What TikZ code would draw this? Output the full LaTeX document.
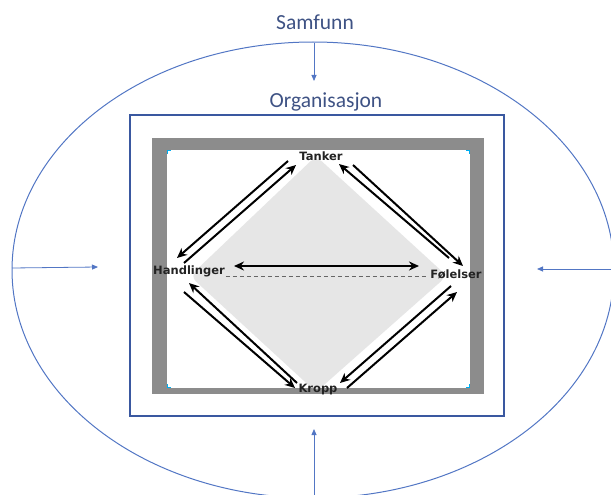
\documentclass[tikz,border=0pt]{standalone}
\usepackage{fontspec}
\setmainfont{Carlito}
\newfontfamily\lblfont{DejaVu Sans}
\usetikzlibrary{arrows.meta}
\definecolor{ttl}{RGB}{62,82,132}
\definecolor{lb}{RGB}{82,118,196}
\definecolor{rb}{RGB}{58,88,160}
\definecolor{frm}{RGB}{140,140,140}
\definecolor{dia}{RGB}{230,230,230}
\definecolor{txt}{RGB}{35,35,35}
\tikzset{
  ttlnode/.style={font=\fontsize{21.5}{24}\selectfont, text=ttl, inner sep=0pt},
  lblnode/.style={font=\lblfont\bfseries\fontsize{11.5}{13}\selectfont, text=txt, inner sep=0pt},
  bluearr/.style={lb, line width=0.8pt, -{Triangle[length=6pt,width=5pt]}},
  blkarr/.style={black, line width=2pt, -{Stealth[length=10pt,width=9pt]}},
  blkdbl/.style={black, line width=2pt, {Stealth[length=10pt,width=9pt]}-{Stealth[length=10pt,width=9pt]}},
  cyanmark/.style={cyan, line width=1pt}
}
\begin{document}
\begin{tikzpicture}[x=1pt,y=-1pt]
\useasboundingbox (0,0) rectangle (611,495);
% outer ellipse
\begin{scope}
\clip (0,0) rectangle (611,495);
\draw[lb, line width=1pt] (313,270) ellipse [x radius=301, y radius=228];
\end{scope}
% titles
\node[ttlnode] (samf) at (315,22) {Samfunn};
\node[ttlnode] (org) at (326,102) {Organisasjon};
% organisation box
\draw[rb, line width=2pt] (130,115) rectangle (504,416);
% blue arrows
\coordinate (ta) at (314,43);
\coordinate (tb) at (314,81);
\coordinate (la) at (12,268);
\coordinate (lbb) at (98,267);
\coordinate (ra) at (611,269);
\coordinate (rbb) at (537,269);
\coordinate (ba) at (314,495);
\coordinate (bb) at (314,429);
\draw[bluearr] (ta) -- (tb);
\draw[bluearr] (la) -- (lbb);
\draw[bluearr] (ra) -- (rbb);
\draw[bluearr] (ba) -- (bb);
% grey frame
\fill[frm] (152,138) rectangle (484,394);
\fill[white] (167,150) rectangle (470,388);
\draw[cyanmark] (167,154) -- (167,150.5) -- (171,150.5);
\draw[cyanmark] (466,150.5) -- (469.5,150.5) -- (469.5,154);
\draw[cyanmark] (167,384) -- (167,387.5) -- (171,387.5);
\draw[cyanmark] (466,387.5) -- (469.5,387.5) -- (469.5,384);
% diamond
\fill[dia, rounded corners=8pt] (316,156) -- (447,276) -- (316,392) -- (190,276) -- cycle;
% labels
\node[lblnode] (T) at (321,156) {Tanker};
\node[lblnode] (H) at (189,271) {Handlinger};
\node[lblnode] (F) at (456,274) {Følelser};
\node[lblnode] (K) at (318,390) {Kropp};
% dashed line
\coordinate (dl) at (0,276);
\draw[black!60, line width=1pt, dash pattern=on 4.5pt off 2.5pt] ([xshift=1pt]H.east |- dl) -- ([xshift=-2pt]F.west |- dl);
% black arrows
\coordinate (a1s) at (288,161); \coordinate (a1e) at (177,258);
\coordinate (a2s) at (184,263); \coordinate (a2e) at (296,165);
\coordinate (b1s) at (449,258); \coordinate (b1e) at (339,164);
\coordinate (b2s) at (353,165); \coordinate (b2e) at (463,266);
\coordinate (cs) at (234,266);  \coordinate (ce) at (419,266);
\coordinate (d1s) at (184,292); \coordinate (d1e) at (295,388);
\coordinate (d2s) at (297,383); \coordinate (d2e) at (189,283);
\coordinate (e1s) at (451,286); \coordinate (e1e) at (340,383);
\coordinate (e2s) at (347,388); \coordinate (e2e) at (457,292);
\draw[blkarr] (a1s) -- (a1e);
\draw[blkarr] (a2s) -- (a2e);
\draw[blkarr] (b1s) -- (b1e);
\draw[blkarr] (b2s) -- (b2e);
\draw[blkdbl] (cs) -- (ce);
\draw[blkarr] (d1s) -- (d1e);
\draw[blkarr] (d2s) -- (d2e);
\draw[blkarr] (e1s) -- (e1e);
\draw[blkarr] (e2s) -- (e2e);
\end{tikzpicture}
\end{document}
